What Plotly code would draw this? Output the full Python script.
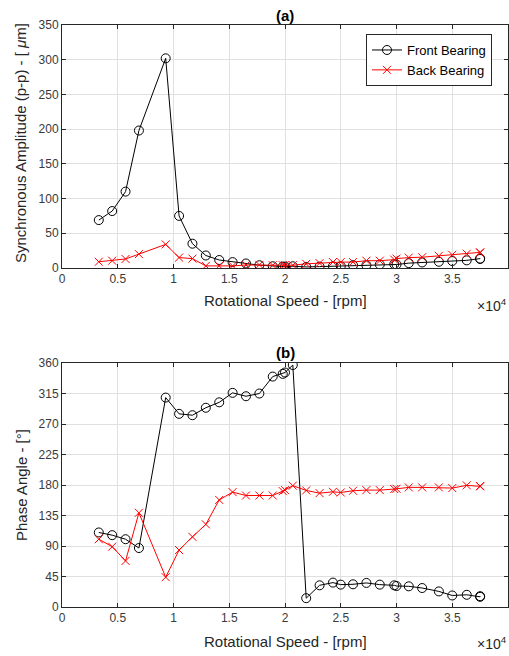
import plotly.graph_objects as go

# Rotational speed [rpm]
speed = [3300, 4500, 5700, 6900, 9300, 10500, 11700, 12900, 14100, 15300, 16500,
         17700, 18900, 19800, 20000, 20700, 21900, 23100, 24300, 25000, 26100,
         27300, 28500, 29800, 30000, 31100, 32300, 33800, 35000, 36300, 37500, 37500]

# (a) Synchronous amplitude (p-p) [um]
amp_front = [69, 82, 110, 198, 302, 75, 35, 18, 11.5, 8.5, 6.5,
             4, 2.5, 2, 2, 2.5, 1.5, 2, 2.5, 2.5, 4,
             4, 5, 5.5, 5, 7, 8, 9, 10, 11, 13.5, 13]
amp_back = [9, 10.5, 13, 20, 34, 15, 13.5, 3, 3, 3, 4.3,
            4.5, 4, 4, 4, 4, 6, 7, 8.5, 8.5, 8.5,
            10.5, 10.5, 12, 13.5, 15, 15.5, 17.5, 19, 20.5, 22.5, 22]

# (b) Phase angle [deg]
ph_front = [110, 106, 100, 87, 309, 285, 283, 294, 302, 316, 311,
            315, 340, 344, 346, 357, 13, 32, 36, 33, 33.5,
            35.5, 33, 32, 31, 30.5, 28, 23, 17, 18, 15, 16]
ph_back = [100, 89, 68, 139, 44, 84, 103.5, 122, 158, 169.5, 164.5,
           164.5, 164.5, 171, 172.5, 179, 172, 168, 170, 169, 171.5,
           172.5, 172.5, 174, 174.5, 176.5, 176.5, 176.5, 175.5, 179.5, 178.5, 178]

x_ticks = [0, 0.5, 1, 1.5, 2, 2.5, 3, 3.5, 4]
amp_ticks = [0, 50, 100, 150, 200, 250, 300, 350]
ph_ticks = [0, 45, 90, 135, 180, 225, 270, 315, 360]

xs = [s / 1e4 for s in speed]

FONT = "Liberation Sans, Arial, sans-serif"
AX = "#262626"
GRID = "#e0e0e0"

fig = go.Figure()
front_style = dict(mode="lines+markers", line=dict(color="black", width=1),
                   marker=dict(symbol="circle-open", size=9, color="black",
                               line=dict(width=1)))
back_style = dict(mode="lines+markers", line=dict(color="#ff0000", width=1),
                  marker=dict(symbol="x-thin-open", size=8, color="#ff0000",
                              line=dict(width=1, color="#ff0000")))

fig.add_trace(go.Scatter(x=xs, y=amp_front, name="Front Bearing", xaxis="x", yaxis="y", **front_style))
fig.add_trace(go.Scatter(x=xs, y=amp_back, name="Back Bearing", xaxis="x", yaxis="y", **back_style))
fig.add_trace(go.Scatter(x=xs, y=ph_front, name="Front Bearing", xaxis="x2", yaxis="y2",
                         showlegend=False, **front_style))
fig.add_trace(go.Scatter(x=xs, y=ph_back, name="Back Bearing", xaxis="x2", yaxis="y2",
                         showlegend=False, **back_style))

axis_common = dict(showline=True, linecolor=AX, linewidth=1, mirror="ticks",
                   ticks="inside", ticklen=4, tickcolor=AX, showgrid=True,
                   gridcolor=GRID, gridwidth=1, zeroline=False,
                   tickfont=dict(family=FONT, size=12, color="#3a3a3a"))

fig.update_layout(
    width=509, height=656,
    margin=dict(l=62, r=1, t=25, b=49),
    paper_bgcolor="white", plot_bgcolor="white",
    font=dict(family=FONT, color=AX),
    xaxis=dict(domain=[0, 1], range=[0, 4], tickvals=x_ticks,
               ticktext=[f"{t:g}" for t in x_ticks], anchor="y", **axis_common),
    yaxis=dict(domain=[0.5825, 1], range=[0, 350], tickvals=amp_ticks, anchor="x",
               **axis_common),
    xaxis2=dict(domain=[0, 1], range=[0, 4], tickvals=x_ticks,
                ticktext=[f"{t:g}" for t in x_ticks], anchor="y2", **axis_common),
    yaxis2=dict(domain=[0, 0.4192], range=[0, 360], tickvals=ph_ticks, anchor="x2",
                **axis_common),
    legend=dict(x=0.6816, y=0.9845, xanchor="left", yanchor="top",
                bgcolor="white", bordercolor=AX, borderwidth=1,
                font=dict(family=FONT, size=13, color="black"),
                tracegroupgap=0, itemwidth=30),
    showlegend=True,
)

ann = []
def px_x(p):
    return (p - 62) / 446
def px_y(p):
    return (607 - p) / 582

def add_text(text, xp, yp, size, color=AX, angle=0, xanchor="center"):
    ann.append(dict(text=text, x=px_x(xp), y=px_y(yp), xref="paper", yref="paper",
                    xanchor=xanchor, yanchor="middle", showarrow=False, textangle=angle,
                    font=dict(family=FONT, size=size, color=color)))

add_text("<b>(a)</b>", 285, 15, 15, "black")
add_text("<b>(b)</b>", 285, 352, 15, "black")
add_text("Rotational Speed - [rpm]", 285, 300, 15)
add_text("Rotational Speed - [rpm]", 285, 641, 15)
add_text("Synchronous Amplitude (p-p) - [ <i>μ</i>m]", 21, 143, 15, angle=-90)
add_text("Phase Angle - [°]", 21, 485, 15, angle=-90)
add_text("×10<sup>4</sup>", 509, 305, 14, xanchor="right")
add_text("×10<sup>4</sup>", 509, 643, 14, xanchor="right")
fig.update_layout(annotations=ann)

fig.write_html("out.html")
